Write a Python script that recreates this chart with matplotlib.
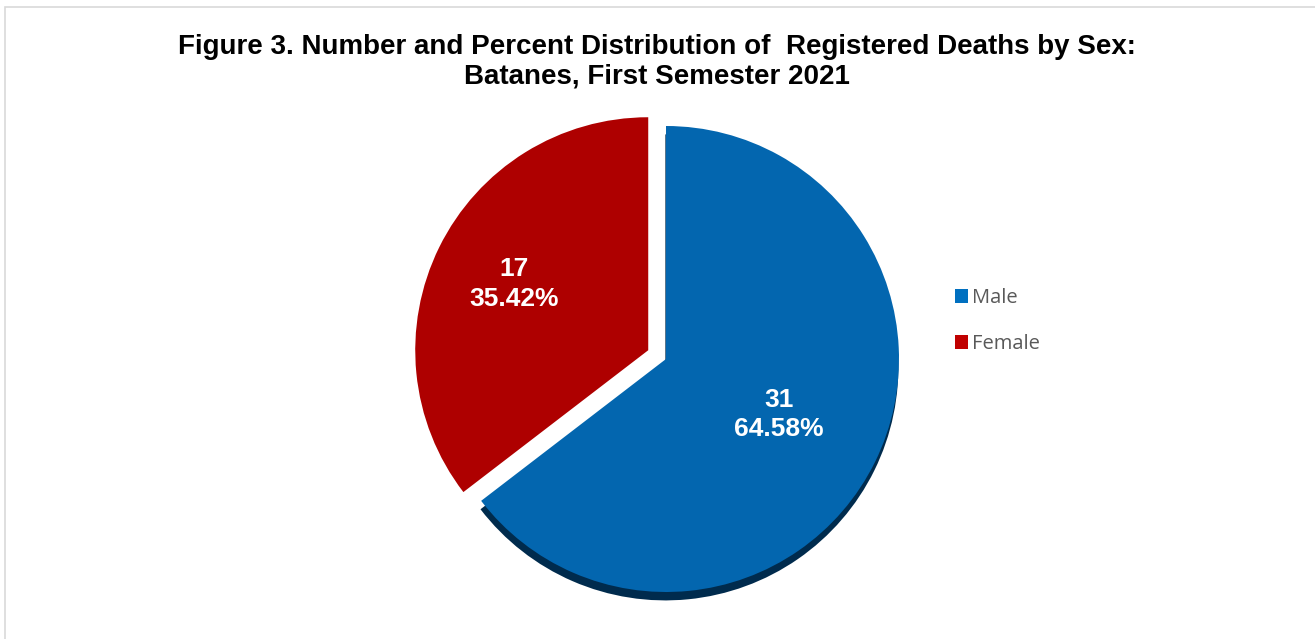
import matplotlib
matplotlib.use("Agg")
import matplotlib.pyplot as plt
from matplotlib.patches import Patch, Rectangle, Shadow
import numpy as np

# ---- data ----
categories = ["Male", "Female"]
deaths = [31, 17]
title = "Figure 3. Number and Percent Distribution of  Registered Deaths by Sex:\nBatanes, First Semester 2021"

# ---- style ----
pie_colors = ["#0366AF", "#AE0000"]
legend_colors = ["#0070C0", "#C00000"]
explode = [0.0, 0.085]
label_dist = [0.54, 0.64]

W, H, DPI = 1315, 639, 100
fig = plt.figure(figsize=(W / DPI, H / DPI), dpi=DPI)
fig.patch.set_facecolor("white")

# chart border
fig.patches.append(Rectangle((5 / W, -0.05), 1.2, 1 - 7 / H + 0.05, transform=fig.transFigure,
                             fill=False, edgecolor="#D9D9D9", linewidth=1.2))

# axes placement: center px, radius px
cx, cy, r = 666, 359, 233
half = 1.2 * r
ax = fig.add_axes([(cx - half) / W, (H - cy - half) / H, 2 * half / W, 2 * half / H])

total = sum(deaths)
wedges, texts, autotexts = ax.pie(
    deaths, colors=pie_colors, explode=explode, startangle=90, counterclock=False,
    radius=1.0, center=(0, 0), frame=True,
    autopct=lambda p: f"{int(round(p * total / 100))}\n{p:.2f}%",
    wedgeprops=dict(linewidth=0),
    textprops=dict(color="white", fontsize=19, fontweight="bold", family="Liberation Sans"),
)
ax.set_xlim(-1.2, 1.2)
ax.set_ylim(-1.2, 1.2)
ax.axis("off")

# reposition labels along mid-angles
for w, t, d in zip(wedges, autotexts, label_dist):
    ang = np.deg2rad((w.theta1 + w.theta2) / 2)
    c = w.center
    t.set_position((c[0] + d * np.cos(ang), c[1] + d * np.sin(ang)))
    t.set_ha("center")
    t.set_va("center")
    t.set_linespacing(1.3)

# shadow beneath male slice
sh = Shadow(wedges[0], -0.002, -0.026, facecolor="#002B4D", edgecolor="none", alpha=1.0)
ax.add_patch(sh)

# title
fig.text(657 / W, 1 - 62 / H, title, ha="center", va="center", fontsize=20,
         fontweight="bold", family="Liberation Sans", linespacing=1.2)

# legend
handles = [Patch(facecolor=c, edgecolor="none") for c in legend_colors]
leg = fig.legend(handles, categories, loc="center left", bbox_to_anchor=(955 / W, 1 - 321 / H),
                 frameon=False, prop=dict(family="Open Sans", size=14.5), labelcolor="#595959",
                 handlelength=0.65, handleheight=0.65, handletextpad=0.2, labelspacing=1.3,
                 borderpad=0, borderaxespad=0)

fig.savefig("out.png", dpi=DPI)
